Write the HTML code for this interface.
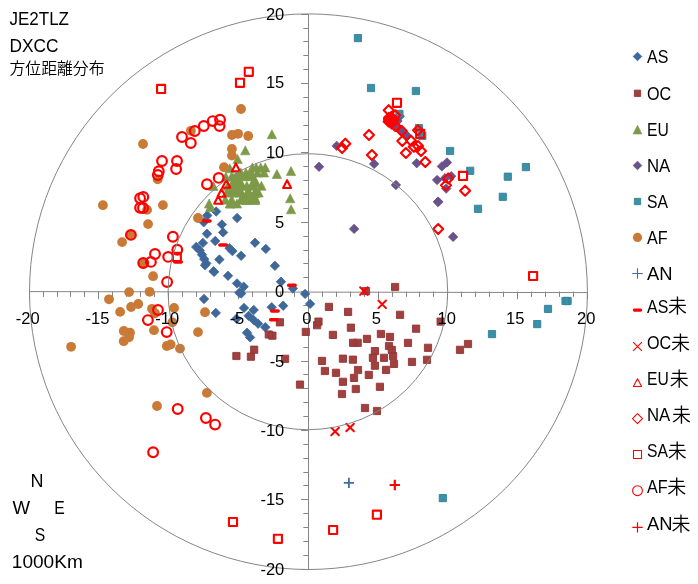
<!DOCTYPE html>
<html lang="ja"><head><meta charset="utf-8"><title>JE2TLZ DXCC 方位距離分布</title>
<style>html,body{margin:0;padding:0;background:#fff}body{width:698px;height:584px;overflow:hidden}svg{display:block}text{font-family:"Liberation Sans","Noto Sans CJK JP",sans-serif;fill:#000}.ax{font-size:16.5px}.t{font-size:18px}.lg{font-size:18px}.jp{font-family:"Noto Sans CJK JP","Liberation Sans",sans-serif;font-weight:350}</style></head><body>
<svg width="698" height="584" viewBox="0 0 698 584">
<rect width="698" height="584" fill="#fff"/>
<g stroke="#868686" stroke-width="1" fill="none">
<line x1="29" y1="291.6" x2="588" y2="292.6"/>
<line x1="308.5" y1="14" x2="308.5" y2="570"/>
<path d="M29.5 291.6v7.6M301 569.5H308.5M43.5 291.6v5.3M303.3 555.5H308.5M57.5 291.6v5.3M303.3 541.5H308.5M70.5 291.6v5.3M303.3 527.5H308.5M84.5 291.6v5.3M303.3 513.5H308.5M98.5 291.6v7.6M301 499.5H308.5M112.5 291.6v5.3M303.3 485.5H308.5M126.5 291.6v5.3M303.3 472.5H308.5M140.5 291.6v5.3M303.3 458.5H308.5M154.5 291.6v5.3M303.3 444.5H308.5M168.5 291.6v7.6M301 430.5H308.5M182.5 291.6v5.3M303.3 416.5H308.5M196.5 291.6v5.3M303.3 402.5H308.5M210.5 291.6v5.3M303.3 388.5H308.5M224.5 291.6v5.3M303.3 374.5H308.5M238.5 291.6v7.6M301 361.5H308.5M252.5 291.6v5.3M303.3 347.5H308.5M266.5 291.6v5.3M303.3 333.5H308.5M280.5 291.6v5.3M303.3 319.5H308.5M294.5 291.6v5.3M303.3 305.5H308.5M308.5 291.6v7.6M301 291.5H308.5M322.5 291.6v5.3M303.3 277.5H308.5M336.5 291.6v5.3M303.3 263.5H308.5M350.5 291.6v5.3M303.3 250.5H308.5M364.5 291.6v5.3M303.3 236.5H308.5M378.5 291.6v7.6M301 222.5H308.5M392.5 291.6v5.3M303.3 208.5H308.5M406.5 291.6v5.3M303.3 194.5H308.5M419.5 291.6v5.3M303.3 180.5H308.5M433.5 291.6v5.3M303.3 166.5H308.5M447.5 291.6v7.6M301 152.5H308.5M461.5 291.6v5.3M303.3 139.5H308.5M475.5 291.6v5.3M303.3 125.5H308.5M489.5 291.6v5.3M303.3 111.5H308.5M503.5 291.6v5.3M303.3 97.5H308.5M517.5 291.6v7.6M301 83.5H308.5M531.5 291.6v5.3M303.3 69.5H308.5M545.5 291.6v5.3M303.3 55.5H308.5M559.5 291.6v5.3M303.3 41.5H308.5M573.5 291.6v5.3M303.3 28.5H308.5M587.5 291.6v7.6M301 14.5H308.5"/>
</g>
<path d="M207.3 210.8l4.7 4.7l-4.7 4.7l-4.7 -4.7zM216.2 206.8l4.7 4.7l-4.7 4.7l-4.7 -4.7zM237.1 213.3l4.7 4.7l-4.7 4.7l-4.7 -4.7zM203.7 217.6l4.7 4.7l-4.7 4.7l-4.7 -4.7zM221.9 219.8l4.7 4.7l-4.7 4.7l-4.7 -4.7zM223.1 227.7l4.7 4.7l-4.7 4.7l-4.7 -4.7zM207 229.1l4.7 4.7l-4.7 4.7l-4.7 -4.7zM215.2 236.3l4.7 4.7l-4.7 4.7l-4.7 -4.7zM202.9 238.2l4.7 4.7l-4.7 4.7l-4.7 -4.7zM196.2 242.3l4.7 4.7l-4.7 4.7l-4.7 -4.7zM199.9 245.9l4.7 4.7l-4.7 4.7l-4.7 -4.7zM202 250l4.7 4.7l-4.7 4.7l-4.7 -4.7zM204.2 254.4l4.7 4.7l-4.7 4.7l-4.7 -4.7zM206.3 258.7l4.7 4.7l-4.7 4.7l-4.7 -4.7zM229.6 243.5l4.7 4.7l-4.7 4.7l-4.7 -4.7zM232.4 246.4l4.7 4.7l-4.7 4.7l-4.7 -4.7zM241.1 251.1l4.7 4.7l-4.7 4.7l-4.7 -4.7zM219.4 254.8l4.7 4.7l-4.7 4.7l-4.7 -4.7zM213.6 266.5l4.7 4.7l-4.7 4.7l-4.7 -4.7zM228 271.1l4.7 4.7l-4.7 4.7l-4.7 -4.7zM237 278.7l4.7 4.7l-4.7 4.7l-4.7 -4.7zM255 238l4.7 4.7l-4.7 4.7l-4.7 -4.7zM265.8 244.2l4.7 4.7l-4.7 4.7l-4.7 -4.7zM274.9 261.1l4.7 4.7l-4.7 4.7l-4.7 -4.7zM281 277l4.7 4.7l-4.7 4.7l-4.7 -4.7zM204 294.3l4.7 4.7l-4.7 4.7l-4.7 -4.7zM215.8 308.2l4.7 4.7l-4.7 4.7l-4.7 -4.7zM205 260.5l4.7 4.7l-4.7 4.7l-4.7 -4.7zM214.1 267.2l4.7 4.7l-4.7 4.7l-4.7 -4.7zM239.3 288.1l4.7 4.7l-4.7 4.7l-4.7 -4.7zM292.9 283.8l4.7 4.7l-4.7 4.7l-4.7 -4.7zM305.1 289.2l4.7 4.7l-4.7 4.7l-4.7 -4.7zM310.1 299.2l4.7 4.7l-4.7 4.7l-4.7 -4.7zM283.2 301l4.7 4.7l-4.7 4.7l-4.7 -4.7zM271.7 302.5l4.7 4.7l-4.7 4.7l-4.7 -4.7zM243.7 282l4.7 4.7l-4.7 4.7l-4.7 -4.7zM241.2 288.8l4.7 4.7l-4.7 4.7l-4.7 -4.7zM244 303.2l4.7 4.7l-4.7 4.7l-4.7 -4.7zM253.7 305.3l4.7 4.7l-4.7 4.7l-4.7 -4.7zM248.7 311.1l4.7 4.7l-4.7 4.7l-4.7 -4.7zM236.5 314l4.7 4.7l-4.7 4.7l-4.7 -4.7zM253.7 315.4l4.7 4.7l-4.7 4.7l-4.7 -4.7zM258.1 319l4.7 4.7l-4.7 4.7l-4.7 -4.7zM265.3 322.6l4.7 4.7l-4.7 4.7l-4.7 -4.7zM247 328.1l4.7 4.7l-4.7 4.7l-4.7 -4.7zM250.1 332.7l4.7 4.7l-4.7 4.7l-4.7 -4.7z" fill="#3e6899" stroke="#3e6899" stroke-width="0.8" stroke-linejoin="round"/>
<path d="M276.3 318.7h7.2v7.2h-7.2zM265.2 330.9h7.2v7.2h-7.2zM268.8 332.1h7.2v7.2h-7.2zM302.2 328.3h7.2v7.2h-7.2zM314.9 318h7.2v7.2h-7.2zM313.5 321.6h7.2v7.2h-7.2zM325.3 303.3h7.2v7.2h-7.2zM250.6 346.1h7.2v7.2h-7.2zM247.3 353.1h7.2v7.2h-7.2zM281.5 355.2h7.2v7.2h-7.2zM362.4 287.5h7.2v7.2h-7.2zM391.5 283.4h7.2v7.2h-7.2zM344.5 308.3h7.2v7.2h-7.2zM396.5 311.2h7.2v7.2h-7.2zM347.3 324.1h7.2v7.2h-7.2zM329.3 331.3h7.2v7.2h-7.2zM377.3 330.4h7.2v7.2h-7.2zM386.4 333.3h7.2v7.2h-7.2zM363.4 335.3h7.2v7.2h-7.2zM349.5 339.2h7.2v7.2h-7.2zM354.1 339.2h7.2v7.2h-7.2zM412.5 325.1h7.2v7.2h-7.2zM404.4 339.3h7.2v7.2h-7.2zM437 318h7.2v7.2h-7.2zM464.4 340.4h7.2v7.2h-7.2zM456.4 346.2h7.2v7.2h-7.2zM424.4 344.2h7.2v7.2h-7.2zM423.4 356.2h7.2v7.2h-7.2zM408.4 358.3h7.2v7.2h-7.2zM232.8 352.4h7.2v7.2h-7.2zM296.4 381h7.2v7.2h-7.2zM318.4 357.3h7.2v7.2h-7.2zM339.3 355.1h7.2v7.2h-7.2zM349.3 356.1h7.2v7.2h-7.2zM321.3 367.4h7.2v7.2h-7.2zM332.4 369.2h7.2v7.2h-7.2zM354.4 366.4h7.2v7.2h-7.2zM350.4 374.3h7.2v7.2h-7.2zM339.3 378.2h7.2v7.2h-7.2zM365.2 371.3h7.2v7.2h-7.2zM352.2 385.4h7.2v7.2h-7.2zM338.4 390.4h7.2v7.2h-7.2zM376.3 383.2h7.2v7.2h-7.2zM385.4 342.4h7.2v7.2h-7.2zM388.2 346.3h7.2v7.2h-7.2zM371.3 347.5h7.2v7.2h-7.2zM389.5 352.5h7.2v7.2h-7.2zM380.4 354.2h7.2v7.2h-7.2zM390.4 360.3h7.2v7.2h-7.2zM369.3 354.2h7.2v7.2h-7.2zM371.3 362.1h7.2v7.2h-7.2zM382.5 366.3h7.2v7.2h-7.2zM361.4 404.4h7.2v7.2h-7.2zM373.4 407.4h7.2v7.2h-7.2z" fill="#a04140" stroke="#933735" stroke-width="0.9" stroke-linejoin="round"/>
<path d="M271.9 129.7l4.7 9.0h-9.4zM245.3 145.8l4.7 9.0h-9.4zM237.6 154.5l4.7 9.0h-9.4zM229.8 163.8l4.7 9.0h-9.4zM213.4 181.5l4.7 9.0h-9.4zM209.1 199l4.7 9.0h-9.4zM210.2 202.5l4.7 9.0h-9.4zM225.8 172.2l4.7 9.0h-9.4zM276.9 169.5l4.7 9.0h-9.4zM291 166.5l4.7 9.0h-9.4zM290.2 193.8l4.7 9.0h-9.4zM291.1 204.8l4.7 9.0h-9.4zM252.39 162.91l4.7 9.0h-9.4zM256.26 162.91l4.7 9.0h-9.4zM260.77 162.91l4.7 9.0h-9.4zM265.28 162.91l4.7 9.0h-9.4zM240.79 168.06l4.7 9.0h-9.4zM245.94 168.06l4.7 9.0h-9.4zM251.1 168.06l4.7 9.0h-9.4zM257.55 168.06l4.7 9.0h-9.4zM263.99 168.06l4.7 9.0h-9.4zM231.76 171.67l4.7 9.0h-9.4zM236.92 171.67l4.7 9.0h-9.4zM242.08 171.67l4.7 9.0h-9.4zM247.23 171.67l4.7 9.0h-9.4zM252.39 171.67l4.7 9.0h-9.4zM227.89 181.21l4.7 9.0h-9.4zM234.34 181.21l4.7 9.0h-9.4zM242.46 181.21l4.7 9.0h-9.4zM246.85 181.21l4.7 9.0h-9.4zM251.36 181.21l4.7 9.0h-9.4zM261.42 181.21l4.7 9.0h-9.4zM226.6 188.05l4.7 9.0h-9.4zM233.05 188.05l4.7 9.0h-9.4zM236.92 188.05l4.7 9.0h-9.4zM241.17 188.05l4.7 9.0h-9.4zM247.49 188.05l4.7 9.0h-9.4zM249.17 188.05l4.7 9.0h-9.4zM255.48 188.05l4.7 9.0h-9.4zM258.58 188.05l4.7 9.0h-9.4zM225.31 195.14l4.7 9.0h-9.4zM231.76 195.14l4.7 9.0h-9.4zM240.79 195.14l4.7 9.0h-9.4zM247.23 195.14l4.7 9.0h-9.4zM254.97 195.14l4.7 9.0h-9.4zM229.83 199.01l4.7 9.0h-9.4zM236.92 199.01l4.7 9.0h-9.4zM251.1 168.84l4.7 9.0h-9.4zM251.1 170l4.7 9.0h-9.4zM251.1 171.16l4.7 9.0h-9.4zM235.63 172.32l4.7 9.0h-9.4zM236.92 172.32l4.7 9.0h-9.4zM235.63 173.48l4.7 9.0h-9.4zM236.92 173.48l4.7 9.0h-9.4zM235.63 174.64l4.7 9.0h-9.4zM236.92 174.64l4.7 9.0h-9.4zM238.21 174.64l4.7 9.0h-9.4zM234.34 175.8l4.7 9.0h-9.4zM235.63 175.8l4.7 9.0h-9.4zM236.92 175.8l4.7 9.0h-9.4zM238.21 175.8l4.7 9.0h-9.4zM254.97 175.8l4.7 9.0h-9.4zM234.34 176.96l4.7 9.0h-9.4zM235.63 176.96l4.7 9.0h-9.4zM236.92 176.96l4.7 9.0h-9.4zM238.21 176.96l4.7 9.0h-9.4zM239.5 176.96l4.7 9.0h-9.4zM253.68 176.96l4.7 9.0h-9.4zM254.97 176.96l4.7 9.0h-9.4zM233.05 178.12l4.7 9.0h-9.4zM234.34 178.12l4.7 9.0h-9.4zM235.63 178.12l4.7 9.0h-9.4zM236.92 178.12l4.7 9.0h-9.4zM238.21 178.12l4.7 9.0h-9.4zM239.5 178.12l4.7 9.0h-9.4zM253.68 178.12l4.7 9.0h-9.4zM254.97 178.12l4.7 9.0h-9.4zM233.05 179.28l4.7 9.0h-9.4zM234.34 179.28l4.7 9.0h-9.4zM235.63 179.28l4.7 9.0h-9.4zM236.92 179.28l4.7 9.0h-9.4zM238.21 179.28l4.7 9.0h-9.4zM239.5 179.28l4.7 9.0h-9.4zM240.79 179.28l4.7 9.0h-9.4zM233.05 180.44l4.7 9.0h-9.4zM234.34 180.44l4.7 9.0h-9.4zM235.63 180.44l4.7 9.0h-9.4zM236.92 180.44l4.7 9.0h-9.4zM233.05 181.6l4.7 9.0h-9.4zM234.34 181.6l4.7 9.0h-9.4zM235.63 181.6l4.7 9.0h-9.4zM236.92 181.6l4.7 9.0h-9.4zM238.21 181.6l4.7 9.0h-9.4zM233.05 182.76l4.7 9.0h-9.4zM234.34 182.76l4.7 9.0h-9.4zM235.63 182.76l4.7 9.0h-9.4zM236.92 182.76l4.7 9.0h-9.4zM238.21 182.76l4.7 9.0h-9.4zM233.05 183.92l4.7 9.0h-9.4zM234.34 183.92l4.7 9.0h-9.4zM235.63 183.92l4.7 9.0h-9.4zM236.92 183.92l4.7 9.0h-9.4zM238.21 183.92l4.7 9.0h-9.4zM233.05 185.08l4.7 9.0h-9.4zM234.34 185.08l4.7 9.0h-9.4zM235.63 185.08l4.7 9.0h-9.4zM236.92 185.08l4.7 9.0h-9.4zM238.21 185.08l4.7 9.0h-9.4zM239.5 185.08l4.7 9.0h-9.4zM256.26 186.24l4.7 9.0h-9.4zM240.79 187.4l4.7 9.0h-9.4zM248.52 187.4l4.7 9.0h-9.4zM254.97 187.4l4.7 9.0h-9.4zM256.26 187.4l4.7 9.0h-9.4zM247.23 188.56l4.7 9.0h-9.4zM248.52 188.56l4.7 9.0h-9.4zM254.97 188.56l4.7 9.0h-9.4zM247.23 189.72l4.7 9.0h-9.4zM248.52 189.72l4.7 9.0h-9.4zM249.81 189.72l4.7 9.0h-9.4zM245.94 190.88l4.7 9.0h-9.4zM247.23 190.88l4.7 9.0h-9.4zM248.52 190.88l4.7 9.0h-9.4zM249.81 190.88l4.7 9.0h-9.4zM253.68 190.88l4.7 9.0h-9.4zM243.37 192.04l4.7 9.0h-9.4zM245.94 192.04l4.7 9.0h-9.4zM247.23 192.04l4.7 9.0h-9.4zM248.52 192.04l4.7 9.0h-9.4zM249.81 192.04l4.7 9.0h-9.4zM251.1 192.04l4.7 9.0h-9.4zM253.68 192.04l4.7 9.0h-9.4zM243.37 193.21l4.7 9.0h-9.4zM244.65 193.21l4.7 9.0h-9.4zM245.94 193.21l4.7 9.0h-9.4zM247.23 193.21l4.7 9.0h-9.4zM248.52 193.21l4.7 9.0h-9.4zM249.81 193.21l4.7 9.0h-9.4zM251.1 193.21l4.7 9.0h-9.4zM252.39 193.21l4.7 9.0h-9.4zM253.68 193.21l4.7 9.0h-9.4zM254.97 193.21l4.7 9.0h-9.4zM242.08 194.37l4.7 9.0h-9.4zM245.94 194.37l4.7 9.0h-9.4zM247.23 194.37l4.7 9.0h-9.4zM249.81 194.37l4.7 9.0h-9.4zM251.1 194.37l4.7 9.0h-9.4zM254.97 194.37l4.7 9.0h-9.4zM245.94 195.53l4.7 9.0h-9.4zM247.23 195.53l4.7 9.0h-9.4zM254.97 195.53l4.7 9.0h-9.4zM230.47 199.01l4.7 9.0h-9.4z" fill="#7e9a48" stroke="#7e9a48" stroke-width="0.6" stroke-linejoin="round"/>
<path d="M319 162.1l4.7 4.7l-4.7 4.7l-4.7 -4.7zM336.7 141.2l4.7 4.7l-4.7 4.7l-4.7 -4.7zM374.1 159.2l4.7 4.7l-4.7 4.7l-4.7 -4.7zM395.9 180.3l4.7 4.7l-4.7 4.7l-4.7 -4.7zM354.1 224.2l4.7 4.7l-4.7 4.7l-4.7 -4.7zM438 197.3l4.7 4.7l-4.7 4.7l-4.7 -4.7zM416.7 158.5l4.7 4.7l-4.7 4.7l-4.7 -4.7zM441.9 161.7l4.7 4.7l-4.7 4.7l-4.7 -4.7zM447 157.8l4.7 4.7l-4.7 4.7l-4.7 -4.7zM437.1 175.3l4.7 4.7l-4.7 4.7l-4.7 -4.7zM445 173.5l4.7 4.7l-4.7 4.7l-4.7 -4.7zM451.2 171.5l4.7 4.7l-4.7 4.7l-4.7 -4.7zM446.2 183.9l4.7 4.7l-4.7 4.7l-4.7 -4.7zM438.1 196.9l4.7 4.7l-4.7 4.7l-4.7 -4.7zM453.1 232.2l4.7 4.7l-4.7 4.7l-4.7 -4.7zM401.6 126.2l4.7 4.7l-4.7 4.7l-4.7 -4.7zM407.3 131.2l4.7 4.7l-4.7 4.7l-4.7 -4.7zM394.4 121.1l4.7 4.7l-4.7 4.7l-4.7 -4.7zM399.8 111.6l4.7 4.7l-4.7 4.7l-4.7 -4.7zM397.5 116.3l4.7 4.7l-4.7 4.7l-4.7 -4.7z" fill="#69518a" stroke="#69518a" stroke-width="0.8" stroke-linejoin="round"/>
<path d="M354.3 34.5h7.2v7.2h-7.2zM367.4 84.4h7.2v7.2h-7.2zM412.3 87.4h7.2v7.2h-7.2zM395.8 110.3h7.2v7.2h-7.2zM415.3 124.6h7.2v7.2h-7.2zM418.7 132.2h7.2v7.2h-7.2zM446.5 147.4h7.2v7.2h-7.2zM466.6 167.2h7.2v7.2h-7.2zM522.3 163.5h7.2v7.2h-7.2zM504.2 173.1h7.2v7.2h-7.2zM499.2 193.2h7.2v7.2h-7.2zM474.4 205.2h7.2v7.2h-7.2zM488.4 330.5h7.2v7.2h-7.2zM533.6 320.5h7.2v7.2h-7.2zM544.4 305.3h7.2v7.2h-7.2zM561.9 297.4h7.2v7.2h-7.2zM564 297.4h7.2v7.2h-7.2zM439.2 494.5h7.2v7.2h-7.2z" fill="#3c8fa6" stroke="#30829a" stroke-width="0.9" stroke-linejoin="round"/>
<g fill="#c97a36"><circle cx="143" cy="144" r="4.9"/><circle cx="190.9" cy="130.8" r="4.9"/><circle cx="157.7" cy="179.4" r="4.9"/><circle cx="241" cy="109" r="4.9"/><circle cx="231.9" cy="135" r="4.9"/><circle cx="238.1" cy="133.8" r="4.9"/><circle cx="248.2" cy="136" r="4.9"/><circle cx="231.9" cy="148.9" r="4.9"/><circle cx="231.9" cy="155.6" r="4.9"/><circle cx="224" cy="167.2" r="4.9"/><circle cx="162.9" cy="205.1" r="4.9"/><circle cx="147.1" cy="209.9" r="4.9"/><circle cx="148.1" cy="224.1" r="4.9"/><circle cx="130.9" cy="234.9" r="4.9"/><circle cx="122.1" cy="242.1" r="4.9"/><circle cx="198" cy="218" r="4.9"/><circle cx="143.7" cy="262.8" r="4.9"/><circle cx="153.1" cy="276.2" r="4.9"/><circle cx="102.9" cy="205.2" r="4.9"/><circle cx="129.1" cy="292.1" r="4.9"/><circle cx="109" cy="299.3" r="4.9"/><circle cx="138.2" cy="304" r="4.9"/><circle cx="131.1" cy="307" r="4.9"/><circle cx="120.1" cy="311.9" r="4.9"/><circle cx="123.8" cy="331" r="4.9"/><circle cx="130" cy="332.7" r="4.9"/><circle cx="129" cy="337.3" r="4.9"/><circle cx="123.7" cy="341.2" r="4.9"/><circle cx="71.1" cy="346.8" r="4.9"/><circle cx="142.8" cy="263.5" r="4.9"/><circle cx="149.6" cy="291.8" r="4.9"/><circle cx="152" cy="308.8" r="4.9"/><circle cx="155" cy="313.3" r="4.9"/><circle cx="174.1" cy="307.9" r="4.9"/><circle cx="172.4" cy="322.3" r="4.9"/><circle cx="154" cy="330.2" r="4.9"/><circle cx="205" cy="312.2" r="4.9"/><circle cx="198" cy="332.1" r="4.9"/><circle cx="166.8" cy="346" r="4.9"/><circle cx="170.6" cy="344.5" r="4.9"/><circle cx="180" cy="348.6" r="4.9"/><circle cx="206.9" cy="392.9" r="4.9"/><circle cx="157" cy="406" r="4.9"/></g>
<path d="M343.8 482.9h10.2M348.9 477.8v10.2" fill="none" stroke="#3f6ea8" stroke-width="1.8"/>
<path d="M203.55 221h6.5M174.75 261.9h6.5M219.85 245h6.5M288.65 285.2h6.5M271.65 311.1h6.5M270.65 319.8h6.5" fill="none" stroke="#ff0000" stroke-width="3.5" stroke-linecap="round"/>
<path d="M360.1 287.3l7.6 7.6M367.7 287.3l-7.6 7.6M378.4 300.5l7.6 7.6M386 300.5l-7.6 7.6M331.3 427.7l7.6 7.6M338.9 427.7l-7.6 7.6M346.3 423.7l7.6 7.6M353.9 423.7l-7.6 7.6" fill="none" stroke="#ff0000" stroke-width="2" stroke-linecap="round"/>
<path d="M235.9 163.4l4.0 7.8h-8.0zM226.3 179.9l4.0 7.8h-8.0zM221.5 189l4.0 7.8h-8.0zM218.2 196l4.0 7.8h-8.0zM287.1 180.2l4.0 7.8h-8.0z" fill="none" stroke="#ff0000" stroke-width="2.1" stroke-linejoin="round"/>
<path d="M369 129.9l5.0 5.0l-5.0 5.0l-5.0 -5.0zM388.7 105.2l5.0 5.0l-5.0 5.0l-5.0 -5.0zM395.3 110.3l5.0 5.0l-5.0 5.0l-5.0 -5.0zM389 114.3l5.0 5.0l-5.0 5.0l-5.0 -5.0zM388.6 116.6l5.0 5.0l-5.0 5.0l-5.0 -5.0zM391.6 118.6l5.0 5.0l-5.0 5.0l-5.0 -5.0zM395.3 120.9l5.0 5.0l-5.0 5.0l-5.0 -5.0zM401.8 125.9l5.0 5.0l-5.0 5.0l-5.0 -5.0zM402.3 135.9l5.0 5.0l-5.0 5.0l-5.0 -5.0zM411 135.7l5.0 5.0l-5.0 5.0l-5.0 -5.0zM418 125.2l5.0 5.0l-5.0 5.0l-5.0 -5.0zM405.9 148l5.0 5.0l-5.0 5.0l-5.0 -5.0zM413.8 141.7l5.0 5.0l-5.0 5.0l-5.0 -5.0zM418.1 141l5.0 5.0l-5.0 5.0l-5.0 -5.0zM421 146l5.0 5.0l-5.0 5.0l-5.0 -5.0zM425.3 156.9l5.0 5.0l-5.0 5.0l-5.0 -5.0zM448.2 173.4l5.0 5.0l-5.0 5.0l-5.0 -5.0zM446 180.3l5.0 5.0l-5.0 5.0l-5.0 -5.0zM465.1 185.7l5.0 5.0l-5.0 5.0l-5.0 -5.0zM438.2 224l5.0 5.0l-5.0 5.0l-5.0 -5.0zM345.3 138.7l5.0 5.0l-5.0 5.0l-5.0 -5.0zM342.1 143.1l5.0 5.0l-5.0 5.0l-5.0 -5.0zM371.9 150l5.0 5.0l-5.0 5.0l-5.0 -5.0zM388.9 112.9l5.0 5.0l-5.0 5.0l-5.0 -5.0zM391.2 112l5.0 5.0l-5.0 5.0l-5.0 -5.0zM389.9 115.6l5.0 5.0l-5.0 5.0l-5.0 -5.0zM392 117l5.0 5.0l-5.0 5.0l-5.0 -5.0zM393.6 114.8l5.0 5.0l-5.0 5.0l-5.0 -5.0zM391 114.4l5.0 5.0l-5.0 5.0l-5.0 -5.0z" fill="none" stroke="#ff0000" stroke-width="2.1" stroke-linejoin="round"/>
<path d="M157.05 84.85h8.1v8.1h-8.1zM244.75 67.75h8.1v8.1h-8.1zM235.95 78.75h8.1v8.1h-8.1zM172.75 252.85h8.1v8.1h-8.1zM392.95 98.75h8.1v8.1h-8.1zM416.15 129.75h8.1v8.1h-8.1zM458.95 171.85h8.1v8.1h-8.1zM529.05 271.95h8.1v8.1h-8.1zM372.85 510.65h8.1v8.1h-8.1zM329.05 525.95h8.1v8.1h-8.1zM228.95 517.95h8.1v8.1h-8.1zM273.85 534.75h8.1v8.1h-8.1z" fill="none" stroke="#ff0000" stroke-width="2.1" stroke-linejoin="round"/>
<g fill="none" stroke="#ff0000" stroke-width="2.2"><circle cx="182" cy="137" r="4.85"/><circle cx="190.8" cy="143" r="4.85"/><circle cx="194.8" cy="131" r="4.85"/><circle cx="203.8" cy="126" r="4.85"/><circle cx="212.7" cy="121.1" r="4.85"/><circle cx="220" cy="119.8" r="4.85"/><circle cx="219.6" cy="126.1" r="4.85"/><circle cx="162" cy="161" r="4.85"/><circle cx="177" cy="161" r="4.85"/><circle cx="176.1" cy="169" r="4.85"/><circle cx="158.8" cy="171.2" r="4.85"/><circle cx="157.8" cy="175" r="4.85"/><circle cx="207" cy="184.3" r="4.85"/><circle cx="218.7" cy="177.9" r="4.85"/><circle cx="140.1" cy="198.2" r="4.85"/><circle cx="143.3" cy="196.9" r="4.85"/><circle cx="140.1" cy="207.8" r="4.85"/><circle cx="143" cy="208" r="4.85"/><circle cx="130.9" cy="234.9" r="4.85"/><circle cx="172.9" cy="236.8" r="4.85"/><circle cx="177.3" cy="249.7" r="4.85"/><circle cx="155" cy="254" r="4.85"/><circle cx="168.2" cy="256.9" r="4.85"/><circle cx="150.9" cy="261.9" r="4.85"/><circle cx="143.2" cy="263" r="4.85"/><circle cx="167.1" cy="282" r="4.85"/><circle cx="158" cy="310" r="4.85"/><circle cx="147.9" cy="320.1" r="4.85"/><circle cx="166.7" cy="332.1" r="4.85"/><circle cx="177.7" cy="409" r="4.85"/><circle cx="205.9" cy="418" r="4.85"/><circle cx="215.1" cy="424.6" r="4.85"/><circle cx="153.1" cy="452.3" r="4.85"/></g>
<path d="M389.65 485h10.3M394.8 479.85v10.3" fill="none" stroke="#ff0000" stroke-width="2.2"/>
<g fill="none" stroke="#868686" stroke-width="1">
<ellipse cx="308.45" cy="291.7" rx="278.95" ry="277.8"/>
<ellipse cx="307.9" cy="291.7" rx="139.8" ry="138"/>
</g>
<g class="ax">
<text x="27.8" y="323.6" text-anchor="middle">-20</text>
 <text x="284.3" y="574.7" text-anchor="end">-20</text>
<text x="97.52" y="323.6" text-anchor="middle">-15</text>
 <text x="284.3" y="505.32" text-anchor="end">-15</text>
<text x="167.25" y="323.6" text-anchor="middle">-10</text>
 <text x="284.3" y="435.95" text-anchor="end">-10</text>
<text x="236.97" y="323.6" text-anchor="middle">-5</text>
 <text x="284.3" y="366.57" text-anchor="end">-5</text>
<text x="306.9" y="323.6" text-anchor="middle">0</text>
 <text x="284.3" y="297.2" text-anchor="end">0</text>
<text x="376.23" y="323.6" text-anchor="middle">5</text>
 <text x="284.3" y="227.82" text-anchor="end">5</text>
<text x="446.75" y="323.6" text-anchor="middle">10</text>
 <text x="284.3" y="158.45" text-anchor="end">10</text>
<text x="515.27" y="323.6" text-anchor="middle">15</text>
 <text x="284.3" y="88.48" text-anchor="end">15</text>
<text x="586.3" y="323.6" text-anchor="middle">20</text>
 <text x="284.3" y="19.7" text-anchor="end">20</text>
</g>
<g class="t">
<text x="9.5" y="24.6" textLength="59.5" lengthAdjust="spacingAndGlyphs">JE2TLZ</text>
<text x="9.5" y="51.8" textLength="49" lengthAdjust="spacingAndGlyphs">DXCC</text>
<text class="jp" x="9.5" y="73.6" style="font-size:16px" textLength="95" lengthAdjust="spacingAndGlyphs">方位距離分布</text>
<text x="30.6" y="486.5">N</text>
<text x="12.4" y="513.6" textLength="17.6" lengthAdjust="spacingAndGlyphs">W</text>
<text x="54.2" y="513.6" textLength="10.5" lengthAdjust="spacingAndGlyphs">E</text>
<text x="34.8" y="540.6" textLength="10.5" lengthAdjust="spacingAndGlyphs">S</text>
<text x="11.8" y="567.8" textLength="71" lengthAdjust="spacingAndGlyphs">1000Km</text>
</g>
<path d="M637.5 52.2l4.3 4.3l-4.3 4.3l-4.3 -4.3z" fill="#3e6899" stroke="#3e6899" stroke-width="0.8" stroke-linejoin="round"/>
<path d="M634.35 90.15h6.3v6.3h-6.3z" fill="#a04140" stroke="#933735" stroke-width="0.9" stroke-linejoin="round"/>
<path d="M637.5 125.2l4.4 8.8h-8.8z" fill="#7e9a48" stroke="#7e9a48" stroke-width="0.6" stroke-linejoin="round"/>
<path d="M637.5 161.2l4.3 4.3l-4.3 4.3l-4.3 -4.3z" fill="#69518a" stroke="#69518a" stroke-width="0.8" stroke-linejoin="round"/>
<path d="M634.35 198.35h6.3v6.3h-6.3z" fill="#3c8fa6" stroke="#30829a" stroke-width="0.9" stroke-linejoin="round"/>
<g fill="#c97a36"><circle cx="637.5" cy="237.4" r="4.6"/></g>
<path d="M632.2 273.5h10.6M637.5 268.2v10.6" fill="none" stroke="#3f6ea8" stroke-width="1.1"/>
<path d="M634.35 310.1h6.3" fill="none" stroke="#ff0000" stroke-width="3.1" stroke-linecap="round"/>
<path d="M633.1 342.1l8.8 8.8M641.9 342.1l-8.8 8.8" fill="none" stroke="#ff0000" stroke-width="1.1" stroke-linecap="butt"/>
<path d="M637.5 378.7l4.1 7.8h-8.2z" fill="none" stroke="#ff0000" stroke-width="1.1" stroke-linejoin="round"/>
<path d="M637.5 413.6l5.0 5.0l-5.0 5.0l-5.0 -5.0z" fill="none" stroke="#ff0000" stroke-width="1.1" stroke-linejoin="round"/>
<path d="M633.5 450.5h8.0v8.0h-8.0z" fill="none" stroke="#ff0000" stroke-width="1.1" stroke-linejoin="round"/>
<g fill="none" stroke="#ff0000" stroke-width="1.1"><circle cx="637.5" cy="490.7" r="4.9"/></g>
<path d="M632.3 527.4h10.4M637.5 522.2v10.4" fill="none" stroke="#ff0000" stroke-width="1.2"/>
<g class="lg">
<text x="647" y="62.9" textLength="21.3" lengthAdjust="spacingAndGlyphs">AS</text>
<text x="647" y="99.7" textLength="24.2" lengthAdjust="spacingAndGlyphs">OC</text>
<text x="647" y="136" textLength="21.8" lengthAdjust="spacingAndGlyphs">EU</text>
<text x="647" y="171.9" textLength="23.3" lengthAdjust="spacingAndGlyphs">NA</text>
<text x="647" y="207.9" textLength="21.0" lengthAdjust="spacingAndGlyphs">SA</text>
<text x="647" y="243.8" textLength="20.6" lengthAdjust="spacingAndGlyphs">AF</text>
<text x="647" y="279.9" textLength="25.5" lengthAdjust="spacingAndGlyphs">AN</text>
<text x="647" y="312.8" textLength="21.3" lengthAdjust="spacingAndGlyphs">AS</text>
<text class="jp" x="667.9" y="313.4" style="font-size:19px">未</text>
<text x="647" y="349.2" textLength="24.2" lengthAdjust="spacingAndGlyphs">OC</text>
<text class="jp" x="670.9" y="349.8" style="font-size:19px">未</text>
<text x="647" y="385.3" textLength="21.8" lengthAdjust="spacingAndGlyphs">EU</text>
<text class="jp" x="669.7" y="385.9" style="font-size:19px">未</text>
<text x="647" y="421.3" textLength="23.3" lengthAdjust="spacingAndGlyphs">NA</text>
<text class="jp" x="672.0" y="421.9" style="font-size:19px">未</text>
<text x="647" y="457.2" textLength="21.0" lengthAdjust="spacingAndGlyphs">SA</text>
<text class="jp" x="667.7" y="457.8" style="font-size:19px">未</text>
<text x="647" y="493.4" textLength="20.6" lengthAdjust="spacingAndGlyphs">AF</text>
<text class="jp" x="667.2" y="494" style="font-size:19px">未</text>
<text x="647" y="530.1" textLength="25.5" lengthAdjust="spacingAndGlyphs">AN</text>
<text class="jp" x="671.4" y="530.7" style="font-size:19px">未</text>
</g>
</svg></body></html>
